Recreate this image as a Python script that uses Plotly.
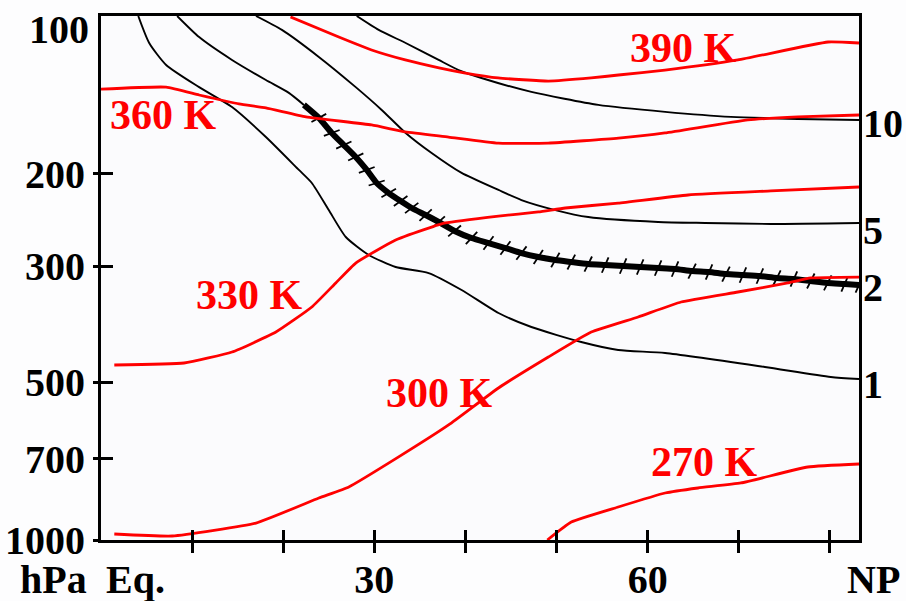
import math
import plotly.graph_objects as go

# Meridional cross-section: latitude (deg N) vs pressure (hPa)
LAT_RANGE = [0, 83.2]

# Isentropes (potential temperature, K)
th390_lat = [20.8, 26.1, 29.7, 33.4, 37.1, 40.0, 43.6, 49.1, 53.8, 56.8, 61.9, 69.9, 79.8, 83.2]
th390_p = [100.4, 109.7, 116.1, 121.3, 125.6, 128.5, 131.3, 133.1, 131.3, 129.6, 126.8, 121.3, 112.1, 112.6]

th360_lat = [0.0, 7.15, 10.77, 15.15, 18.1, 22.5, 29.7, 33.4, 38.15, 43.6, 49.1, 56.8, 61.9, 71.0, 76.5, 83.2]
th360_p = [137.9, 136.7, 141.5, 147.2, 149.8, 155.8, 161.4, 166.4, 170.2, 174.8, 174.8, 171.0, 167.2, 157.9, 155.8, 154.5]

th330_lat = [1.46, 9.12, 14.38, 19.2, 23.14, 25.77, 27.96, 32.34, 36.29, 37.8, 43.63, 48.0, 50.96, 56.77, 64.44, 73.53, 83.2]
th330_p = [463.5, 459.4, 437.8, 400.9, 359.2, 323.2, 296.1, 267.6, 252.8, 248.3, 240.9, 236.6, 232.5, 227.5, 219.6, 215.7, 212.0]

th300_lat = [1.46, 7.81, 17.01, 23.91, 27.2, 32.67, 38.15, 43.63, 49.1, 53.81, 58.96, 63.67, 69.91, 75.39, 77.91, 83.2]
th300_p = [973.9, 982.6, 928.2, 831.5, 792.2, 694.1, 603.2, 512.7, 447.5, 400.9, 375.3, 351.4, 336.3, 323.2, 316.2, 314.9]

th270_lat = [48.99, 51.62, 56.77, 61.92, 65.53, 70.24, 77.58, 83.2]
th270_p = [1000.0, 924.0, 865.0, 813.4, 795.7, 778.3, 725.6, 716.1]

# Potential vorticity contours (PVU)
pv1_lat = [4.09, 5.29, 7.15, 10.77, 14.38, 18.1, 21.72, 23.14, 25.0, 26.87, 29.39, 32.34, 35.96, 39.58,
           43.63, 47.24, 52.71, 56.77, 61.92, 72.87, 80.1, 83.2]
pv1_p = [100.0, 112.6, 124.0, 136.7, 149.2, 170.2, 196.7, 208.3, 234.6, 264.1, 285.8, 301.3, 309.4, 333.3,
         368.8, 392.2, 419.0, 434.0, 439.7, 467.5, 488.5, 492.8]

pv2_upper_lat = [8.36, 10.77, 14.38, 18.1, 20.62, 22.27]
pv2_upper_p = [100.0, 109.7, 121.3, 132.5, 140.2, 147.8]

# Dynamical tropopause (2 PVU)
tropo_lat = [22.27, 23.91, 25.33, 26.65, 27.96, 29.17, 30.26, 31.58, 32.89, 34.1, 35.63, 37.06, 38.81,
             40.67, 42.53, 44.39, 46.15, 48.0, 49.87, 51.62, 53.48, 55.34, 57.31, 59.18, 61.15, 63.01,
             64.88, 66.74, 68.6, 70.46, 72.32, 74.19, 76.05, 77.91, 79.77, 81.63, 83.2]
tropo_p = [147.8, 156.5, 167.2, 176.3, 185.8, 196.7, 208.3, 217.7, 225.5, 232.5, 239.8, 247.2, 257.2,
           265.3, 271.2, 277.2, 283.4, 288.4, 292.2, 294.8, 297.4, 298.7, 300.0, 301.3, 302.7, 304.0,
           306.7, 308.0, 310.8, 312.1, 313.5, 316.2, 317.6, 320.4, 323.2, 324.6, 326.1]

pv5_lat = [17.01, 19.86, 23.91, 27.96, 30.81, 33.44, 36.29, 39.58, 43.63, 46.15, 49.87, 53.48, 61.15,
           66.3, 73.53, 83.2]
pv5_p = [100.0, 106.3, 119.7, 136.7, 151.1, 167.2, 182.6, 199.3, 214.8, 224.5, 234.6, 241.9, 247.2,
         248.3, 249.4, 248.3]

pv10_lat = [28.07, 30.48, 33.44, 37.06, 39.25, 41.76, 47.24, 54.58, 61.92, 69.15, 76.49, 83.2]
pv10_p = [100.0, 106.3, 112.6, 121.3, 126.8, 131.3, 139.6, 147.8, 152.4, 155.8, 157.2, 157.9]

# Labels
theta_labels = ["390 K", "360 K", "330 K", "300 K", "270 K"]
theta_label_lat = [63.9, 6.83, 16.25, 37.2, 66.2]
theta_label_p = [115.1, 154.5, 340.7, 524.0, 709.8]

pv_labels = ["10", "5", "2", "1"]
pv_label_p = [160.4, 257.0, 329.0, 506.0]

p_ticks = [200, 300, 500, 700, 1000]
p_ticktext = ["200", "300", "500", "700", "1000"]
lat_ticks = [10, 20, 30, 40, 50, 60, 70, 80]
lat_ticktext = ["", "", "30", "", "", "60", "", ""]

RED = "#ff0000"
BLACK = "#000000"
FONT = "Liberation Serif"

fig = go.Figure()


def contour(lat, p, color, width, smoothing=0.6):
    fig.add_trace(go.Scatter(
        x=lat, y=p, mode="lines",
        line=dict(color=color, width=width, shape="spline", smoothing=smoothing),
        hoverinfo="skip", showlegend=False,
    ))


# PV contours (thin black)
for lat, p in [(pv1_lat, pv1_p), (pv2_upper_lat, pv2_upper_p), (pv5_lat, pv5_p), (pv10_lat, pv10_p)]:
    contour(lat, p, BLACK, 1.9)

# Tropopause: thick line with cross hatching
fig.add_trace(go.Scatter(
    x=tropo_lat, y=tropo_p, mode="lines+markers",
    line=dict(color=BLACK, width=6, shape="spline", smoothing=0.6),
    marker=dict(symbol="line-ew", size=12, angle=20, angleref="previous",
                color=BLACK, line=dict(color=BLACK, width=1.8)),
    hoverinfo="skip", showlegend=False,
))

# Isentropes (red)
for lat, p in [(th390_lat, th390_p), (th360_lat, th360_p), (th330_lat, th330_p),
               (th300_lat, th300_p), (th270_lat, th270_p)]:
    contour(lat, p, RED, 2.8, smoothing=0.4)

annotations = []
for txt, la, pp in zip(theta_labels, theta_label_lat, theta_label_p):
    annotations.append(dict(
        x=la, y=math.log10(pp), xref="x", yref="y", text=txt, showarrow=False,
        xanchor="center", yanchor="middle",
        font=dict(family=FONT, size=42, color=RED, weight="bold"),
    ))
for txt, pp in zip(pv_labels, pv_label_p):
    annotations.append(dict(
        x=1, y=math.log10(pp), xref="paper", yref="y", text=txt, showarrow=False,
        xanchor="left", yanchor="middle", xshift=2,
        font=dict(family=FONT, size=40, color=BLACK, weight="bold"),
    ))
bold40 = dict(family=FONT, size=40, color=BLACK, weight="bold")
annotations += [
    dict(x=0, y=2, xref="paper", yref="y", text="100", showarrow=False,
         xanchor="right", yanchor="middle", xshift=-10, yshift=-13, font=bold40),
    dict(x=0, y=0, xref="paper", yref="paper", text="hPa", showarrow=False,
         xanchor="right", yanchor="middle", xshift=-12, yshift=-39, font=bold40),
    dict(x=0, y=0, xref="paper", yref="paper", text="Eq.", showarrow=False,
         xanchor="left", yanchor="middle", xshift=3, yshift=-39, font=bold40),
    dict(x=1, y=0, xref="paper", yref="paper", text="NP", showarrow=False,
         xanchor="center", yanchor="middle", xshift=14, yshift=-39, font=bold40),
]

fig.update_layout(
    width=906, height=601,
    margin=dict(l=101, r=47, t=16, b=61, autoexpand=False),
    paper_bgcolor="#fdfdfe", plot_bgcolor="#fbfbfd",
    showlegend=False,
    annotations=annotations,
    xaxis=dict(
        range=LAT_RANGE, showgrid=False, zeroline=False, automargin=False,
        showline=True, linecolor=BLACK, linewidth=3, mirror=True,
        tickmode="array", tickvals=lat_ticks, ticktext=lat_ticktext,
        ticks="outside", ticklen=10, tickwidth=2.5, tickcolor=BLACK,
        ticklabelstandoff=-8,
        tickfont=dict(family=FONT, size=40, color=BLACK, weight="bold"),
    ),
    yaxis=dict(
        type="log", range=[3, 2], showgrid=False, zeroline=False, automargin=False,
        showline=True, linecolor=BLACK, linewidth=3, mirror=True,
        tickmode="array", tickvals=p_ticks, ticktext=p_ticktext,
        ticks="outside", ticklen=5, tickwidth=2.5, tickcolor=BLACK,
        tickfont=dict(family=FONT, size=40, color=BLACK, weight="bold"),
    ),
    # overlay axes carry the inner half of each tick mark
    xaxis2=dict(
        overlaying="x", anchor="y", side="bottom", range=LAT_RANGE, automargin=False,
        showgrid=False, zeroline=False, showline=False, showticklabels=False,
        tickmode="array", tickvals=lat_ticks,
        ticks="inside", ticklen=10, tickwidth=2.5, tickcolor=BLACK,
    ),
    yaxis2=dict(
        overlaying="y", anchor="x", side="left", type="log", range=[3, 2], automargin=False,
        showgrid=False, zeroline=False, showline=False, showticklabels=False,
        tickmode="array", tickvals=p_ticks[:-1],
        ticks="inside", ticklen=12, tickwidth=2.5, tickcolor=BLACK,
    ),
)

# empty trace bound to the overlay axes so they are drawn
fig.add_trace(go.Scatter(x=[None], y=[None], xaxis="x2", yaxis="y2",
                         mode="lines", hoverinfo="skip", showlegend=False))

fig.write_html("out.html")
